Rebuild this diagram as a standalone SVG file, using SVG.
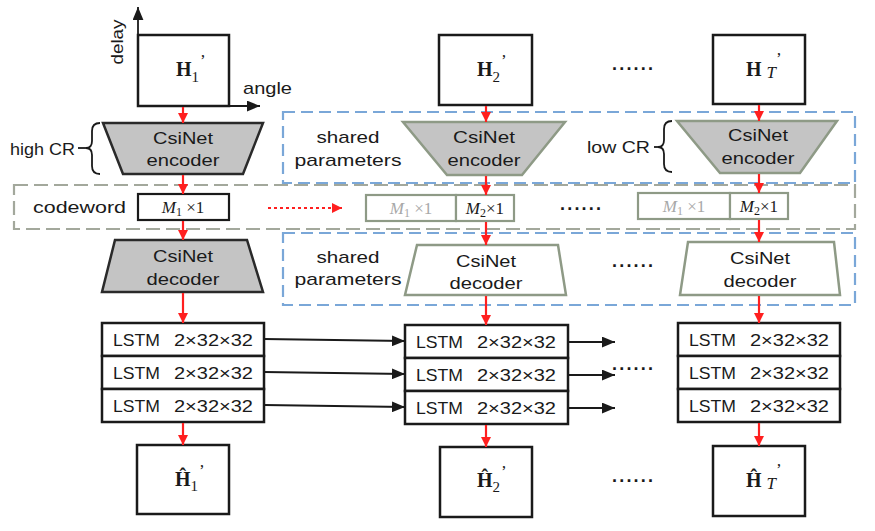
<svg xmlns="http://www.w3.org/2000/svg" width="875" height="531" viewBox="0 0 875 531">
<defs>
<marker id="ra" viewBox="0 0 10 10" refX="10" refY="5" markerWidth="10" markerHeight="10" markerUnits="userSpaceOnUse" orient="auto"><path d="M0,0 L10,5 L0,10 z" fill="#ff1f1f"/></marker>
<marker id="ba" viewBox="0 0 12 10" refX="12" refY="5" markerWidth="13" markerHeight="11" markerUnits="userSpaceOnUse" orient="auto"><path d="M0,0 L12,5 L0,10 z" fill="#1a1a1a"/></marker>
<style>
.s{font-family:"Liberation Sans","Open Sans",sans-serif;font-size:17px;fill:#1a1a1a}
.m{font-family:"Liberation Serif",serif;font-size:20px;fill:#1a1a1a}
.hb{font-weight:bold}
.box{fill:#fff;stroke:#1a1a1a;stroke-width:2.5}
.encA{fill:#c4c4c4;stroke:#2a2a2a;stroke-width:2.5}
.encB{fill:#c4c4c4;stroke:#8e9a86;stroke-width:2.5}
.decB{fill:#fff;stroke:#8e9a86;stroke-width:2.5}
.cwA{fill:#fff;stroke:#1a1a1a;stroke-width:2.2}
.cwB{fill:#fff;stroke:#8e9a86;stroke-width:2.2}
.red{stroke:#ff1f1f;stroke-width:2.2;fill:none}
.blk{stroke:#1a1a1a;stroke-width:1.8;fill:none}
.blue{fill:none;stroke:#7aa7d8;stroke-width:2.2;stroke-dasharray:12,6}
.gray{fill:none;stroke:#a3a89c;stroke-width:2.2;stroke-dasharray:14,6}
.dots{font-family:"Liberation Sans",sans-serif;font-size:18px;font-weight:bold;fill:#1a1a1a}
.sub{font-size:15px;font-weight:normal}
.pr{font-size:17px;font-weight:normal}
</style>
</defs>
<rect width="875" height="531" fill="#fff"/>

<!-- group frames -->
<g id="sharedEncoderFrame"><rect class="blue" x="283" y="112" width="572" height="71"/></g>
<g id="codewordFrame"><rect class="gray" x="14" y="185" width="841" height="44"/>
<text class="s" x="33" y="213" textLength="93" lengthAdjust="spacingAndGlyphs">codeword</text></g>
<g id="sharedDecoderFrame"><rect class="blue" x="283" y="233" width="572" height="72"/></g>

<!-- axes -->
<g id="axes">
<line class="blk" x1="138" y1="106" x2="138" y2="7" stroke-width="2" marker-end="url(#ba)"/>
<line class="blk" x1="138" y1="106" x2="260" y2="106" stroke-width="2" marker-end="url(#ba)"/>
<text class="s" transform="translate(123,42) rotate(-90)" text-anchor="middle" textLength="45" lengthAdjust="spacingAndGlyphs">delay</text>
<text class="s" x="243" y="94" textLength="49" lengthAdjust="spacingAndGlyphs">angle</text>
</g>

<!-- inputs -->
<g id="H1"><rect class="box" x="138" y="35" width="91" height="71"/>
<text class="m hb" x="176" y="76">H<tspan class="sub" dy="6">1</tspan><tspan class="pr" dx="1" dy="-16">’</tspan></text></g>
<g id="H2"><rect class="box" x="439" y="35" width="93" height="70"/>
<text class="m hb" x="477" y="76">H<tspan class="sub" font-weight="bold" dy="6">2</tspan><tspan class="pr" dx="1" dy="-16">’</tspan></text></g>
<g id="HT"><rect class="box" x="713" y="35" width="92" height="69"/>
<text class="m hb" x="746" y="76">H<tspan font-size="17" font-style="italic" font-weight="normal" dy="2" dx="5">T</tspan><tspan class="pr" dx="0" dy="-14">’</tspan></text></g>
<text class="dots" x="612" y="70" textLength="41" lengthAdjust="spacing">......</text>

<!-- encoders -->
<g id="enc1"><polygon class="encA" points="103,123 263,123 243,174 123,174"/>
<text class="s" x="183" y="144" text-anchor="middle" textLength="60" lengthAdjust="spacingAndGlyphs">CsiNet</text>
<text class="s" x="183" y="166" text-anchor="middle" textLength="73" lengthAdjust="spacingAndGlyphs">encoder</text></g>
<g id="highCR"><path d="M100,123 Q92,123 92,131 L92,141 Q92,148 86,148 Q92,148 92,155 L92,166 Q92,174 100,174" fill="none" stroke="#1a1a1a" stroke-width="1.8"/>
<line x1="78" y1="148" x2="87" y2="148" stroke="#1a1a1a" stroke-width="1.8"/>
<text class="s" x="10" y="155" textLength="65" lengthAdjust="spacingAndGlyphs">high CR</text></g>
<g id="enc2"><polygon class="encB" points="403,122 565,122 522,175 447,175"/>
<text class="s" x="484" y="143" text-anchor="middle" textLength="62" lengthAdjust="spacingAndGlyphs">CsiNet</text>
<text class="s" x="484" y="166" text-anchor="middle" textLength="73" lengthAdjust="spacingAndGlyphs">encoder</text></g>
<g id="sharedEnc"><text class="s" x="348" y="143" text-anchor="middle" textLength="63" lengthAdjust="spacingAndGlyphs">shared</text>
<text class="s" x="348" y="166" text-anchor="middle" textLength="107" lengthAdjust="spacingAndGlyphs">parameters</text></g>
<g id="encT"><polygon class="encB" points="677,121 837,121 800,173 720,173"/>
<text class="s" x="758" y="141" text-anchor="middle" textLength="60" lengthAdjust="spacingAndGlyphs">CsiNet</text>
<text class="s" x="758" y="164" text-anchor="middle" textLength="73" lengthAdjust="spacingAndGlyphs">encoder</text></g>
<g id="lowCR"><path d="M672,121 Q664,121 664,129 L664,140 Q664,147 658,147 Q664,147 664,154 L664,164 Q664,172 672,172" fill="none" stroke="#1a1a1a" stroke-width="1.8"/>
<line x1="654" y1="147" x2="659" y2="147" stroke="#1a1a1a" stroke-width="1.8"/>
<text class="s" x="587" y="153" textLength="63" lengthAdjust="spacingAndGlyphs">low CR</text></g>

<!-- codewords -->
<g id="cw1"><rect class="cwA" x="138" y="194" width="91" height="26"/>
<text class="m" x="183" y="213" text-anchor="middle" font-size="17" style="font-size:17px"><tspan font-style="italic">M</tspan><tspan font-size="12" dy="3">1</tspan><tspan dy="-3"> ×1</tspan></text></g>
<g id="cw2"><rect class="cwB" x="366" y="195" width="90" height="26"/><rect class="cwB" x="456" y="195" width="58" height="26"/>
<text class="m" x="411" y="214" text-anchor="middle" style="font-size:17px;fill:#a8a8a8"><tspan font-style="italic">M</tspan><tspan font-size="12" dy="3">1</tspan><tspan dy="-3"> ×1</tspan></text>
<text class="m" x="485" y="214" text-anchor="middle" style="font-size:17px"><tspan font-style="italic">M</tspan><tspan font-size="12" dy="3">2</tspan><tspan dy="-3">×1</tspan></text></g>
<text class="dots" x="560" y="210" textLength="41" lengthAdjust="spacing">......</text>
<g id="cwT"><rect class="cwB" x="638" y="193" width="92" height="26"/><rect class="cwB" x="730" y="193" width="58" height="26"/>
<text class="m" x="684" y="212" text-anchor="middle" style="font-size:17px;fill:#a8a8a8"><tspan font-style="italic">M</tspan><tspan font-size="12" dy="3">1</tspan><tspan dy="-3"> ×1</tspan></text>
<text class="m" x="759" y="212" text-anchor="middle" style="font-size:17px"><tspan font-style="italic">M</tspan><tspan font-size="12" dy="3">2</tspan><tspan dy="-3">×1</tspan></text></g>

<!-- decoders -->
<g id="dec1"><polygon class="encA" points="115,240 247,240 263,292 102,292"/>
<text class="s" x="183" y="262" text-anchor="middle" textLength="60" lengthAdjust="spacingAndGlyphs">CsiNet</text>
<text class="s" x="183" y="285" text-anchor="middle" textLength="73" lengthAdjust="spacingAndGlyphs">decoder</text></g>
<g id="sharedDec"><text class="s" x="348" y="263" text-anchor="middle" textLength="63" lengthAdjust="spacingAndGlyphs">shared</text>
<text class="s" x="348" y="285" text-anchor="middle" textLength="107" lengthAdjust="spacingAndGlyphs">parameters</text></g>
<g id="dec2"><polygon class="decB" points="417,245 558,245 566,295 405,295"/>
<text class="s" x="486" y="267" text-anchor="middle" textLength="60" lengthAdjust="spacingAndGlyphs">CsiNet</text>
<text class="s" x="486" y="289" text-anchor="middle" textLength="73" lengthAdjust="spacingAndGlyphs">decoder</text></g>
<text class="dots" x="612" y="267" textLength="41" lengthAdjust="spacing">......</text>
<g id="decT"><polygon class="decB" points="688,242 834,242 840,295 680,295"/>
<text class="s" x="760" y="264" text-anchor="middle" textLength="60" lengthAdjust="spacingAndGlyphs">CsiNet</text>
<text class="s" x="760" y="287" text-anchor="middle" textLength="73" lengthAdjust="spacingAndGlyphs">decoder</text></g>

<!-- LSTM stacks -->
<g id="lstm1">
<rect class="box" x="102" y="323" width="162" height="33"/><rect class="box" x="102" y="356" width="162" height="33"/><rect class="box" x="102" y="389" width="162" height="33"/>
<text class="s" y="346"><tspan x="113" textLength="47" lengthAdjust="spacingAndGlyphs">LSTM</tspan><tspan x="174" textLength="79" lengthAdjust="spacingAndGlyphs">2×32×32</tspan></text>
<text class="s" y="379"><tspan x="113" textLength="47" lengthAdjust="spacingAndGlyphs">LSTM</tspan><tspan x="174" textLength="79" lengthAdjust="spacingAndGlyphs">2×32×32</tspan></text>
<text class="s" y="412"><tspan x="113" textLength="47" lengthAdjust="spacingAndGlyphs">LSTM</tspan><tspan x="174" textLength="79" lengthAdjust="spacingAndGlyphs">2×32×32</tspan></text>
</g>
<g id="lstm2">
<rect class="box" x="405" y="325" width="163" height="33"/><rect class="box" x="405" y="358" width="163" height="33"/><rect class="box" x="405" y="391" width="163" height="33"/>
<text class="s" y="348"><tspan x="416" textLength="47" lengthAdjust="spacingAndGlyphs">LSTM</tspan><tspan x="477" textLength="79" lengthAdjust="spacingAndGlyphs">2×32×32</tspan></text>
<text class="s" y="381"><tspan x="416" textLength="47" lengthAdjust="spacingAndGlyphs">LSTM</tspan><tspan x="477" textLength="79" lengthAdjust="spacingAndGlyphs">2×32×32</tspan></text>
<text class="s" y="414"><tspan x="416" textLength="47" lengthAdjust="spacingAndGlyphs">LSTM</tspan><tspan x="477" textLength="79" lengthAdjust="spacingAndGlyphs">2×32×32</tspan></text>
</g>
<text class="dots" x="612" y="370" textLength="41" lengthAdjust="spacing">......</text>
<g id="lstmT">
<rect class="box" x="678" y="323" width="162" height="33"/><rect class="box" x="678" y="356" width="162" height="33"/><rect class="box" x="678" y="389" width="162" height="33"/>
<text class="s" y="346"><tspan x="689" textLength="47" lengthAdjust="spacingAndGlyphs">LSTM</tspan><tspan x="750" textLength="79" lengthAdjust="spacingAndGlyphs">2×32×32</tspan></text>
<text class="s" y="379"><tspan x="689" textLength="47" lengthAdjust="spacingAndGlyphs">LSTM</tspan><tspan x="750" textLength="79" lengthAdjust="spacingAndGlyphs">2×32×32</tspan></text>
<text class="s" y="412"><tspan x="689" textLength="47" lengthAdjust="spacingAndGlyphs">LSTM</tspan><tspan x="750" textLength="79" lengthAdjust="spacingAndGlyphs">2×32×32</tspan></text>
</g>

<!-- outputs -->
<g id="Hhat1"><rect class="box" x="137" y="445" width="92" height="69"/>
<text class="m hb" x="175" y="486">Ĥ<tspan class="sub" dy="5">1</tspan><tspan class="pr" dx="1" dy="-15">’</tspan></text></g>
<g id="Hhat2"><rect class="box" x="440" y="447" width="92" height="70"/>
<text class="m hb" x="477" y="487">Ĥ<tspan class="sub" font-weight="bold" dy="5">2</tspan><tspan class="pr" dx="1" dy="-15">’</tspan></text></g>
<text class="dots" x="612" y="482" textLength="41" lengthAdjust="spacing">......</text>
<g id="HhatT"><rect class="box" x="713" y="446" width="92" height="70"/>
<text class="m hb" x="746" y="487">Ĥ<tspan font-size="17" font-style="italic" font-weight="normal" dy="2" dx="5">T</tspan><tspan class="pr" dy="-14">’</tspan></text></g>

<!-- connectors -->
<g id="connectors">
<line class="red" x1="183" y1="107" x2="183" y2="123" marker-end="url(#ra)"/>
<line class="red" x1="183" y1="175" x2="183" y2="194" marker-end="url(#ra)"/>
<line class="red" x1="183" y1="221" x2="183" y2="240" marker-end="url(#ra)"/>
<line class="red" x1="183" y1="293" x2="183" y2="323" marker-end="url(#ra)"/>
<line class="red" x1="183" y1="423" x2="183" y2="445" marker-end="url(#ra)"/>
<line class="red" x1="486" y1="106" x2="486" y2="122" marker-end="url(#ra)"/>
<line class="red" x1="486" y1="176" x2="486" y2="195" marker-end="url(#ra)"/>
<line class="red" x1="486" y1="222" x2="486" y2="245" marker-end="url(#ra)"/>
<line class="red" x1="486" y1="296" x2="486" y2="325" marker-end="url(#ra)"/>
<line class="red" x1="486" y1="425" x2="486" y2="447" marker-end="url(#ra)"/>
<line class="red" x1="759" y1="105" x2="759" y2="121" marker-end="url(#ra)"/>
<line class="red" x1="759" y1="174" x2="759" y2="193" marker-end="url(#ra)"/>
<line class="red" x1="759" y1="220" x2="759" y2="242" marker-end="url(#ra)"/>
<line class="red" x1="759" y1="296" x2="759" y2="323" marker-end="url(#ra)"/>
<line class="red" x1="759" y1="423" x2="759" y2="446" marker-end="url(#ra)"/>
<line class="red" x1="268" y1="208" x2="342" y2="208" stroke-dasharray="3,3" marker-end="url(#ra)"/>
<line class="blk" x1="264" y1="339" x2="405" y2="341" marker-end="url(#ba)"/>
<line class="blk" x1="264" y1="372" x2="405" y2="374" marker-end="url(#ba)"/>
<line class="blk" x1="264" y1="405" x2="405" y2="407" marker-end="url(#ba)"/>
<line class="blk" x1="568" y1="342" x2="615" y2="342" marker-end="url(#ba)"/>
<line class="blk" x1="568" y1="375" x2="615" y2="375" marker-end="url(#ba)"/>
<line class="blk" x1="568" y1="408" x2="615" y2="408" marker-end="url(#ba)"/>
</g>
</svg>
